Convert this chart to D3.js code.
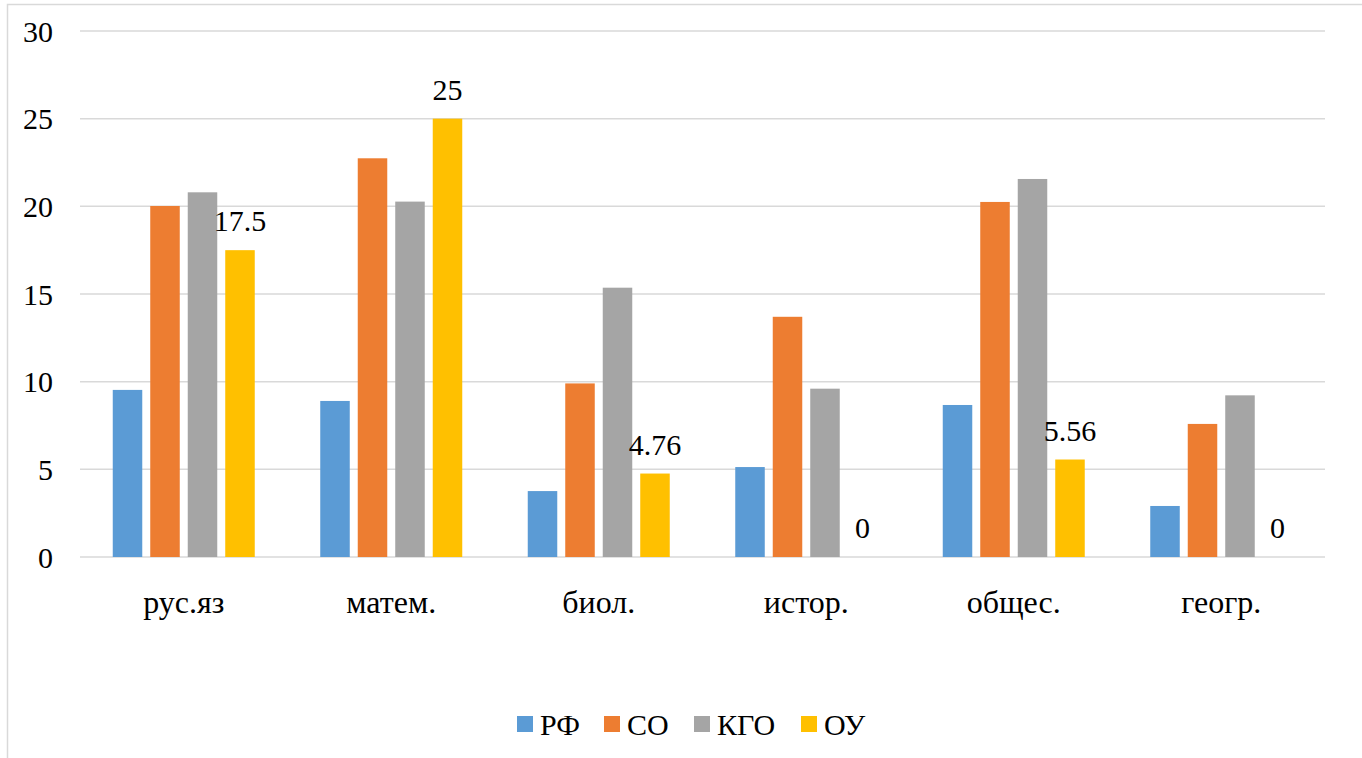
<!DOCTYPE html>
<html>
<head>
<meta charset="utf-8">
<script src="https://cdn.jsdelivr.net/npm/d3@7"></script>
<style>
  body { margin: 0; background: #fff; }
</style>
</head>
<body>
<div id="chart"></div>
<script>
// Data
const categories = ['рус.яз', 'матем.', 'биол.', 'истор.', 'общес.', 'геогр.'];
const seriesNames = ['РФ', 'СО', 'КГО', 'ОУ'];
const seriesColors = ['#5b9bd5', '#ed7d31', '#a5a5a5', '#ffc000'];
const valuesRF  = [9.53, 8.9, 3.76, 5.13, 8.67, 2.91];
const valuesSO  = [20.02, 22.74, 9.9, 13.7, 20.25, 7.59];
const valuesKGO = [20.8, 20.27, 15.36, 9.6, 21.56, 9.22];
const valuesOU  = [17.5, 25, 4.76, 0, 5.56, 0];
const yTicks = [0, 5, 10, 15, 20, 25, 30];

const seriesValues = [valuesRF, valuesSO, valuesKGO, valuesOU];
const labelledSeries = 3; // only ОУ carries data labels

const FONT = 'Liberation Serif';
const FS = '30px';
const width = 1362, height = 758;
const margin = { left: 80, right: 37, top: 31, bottom: 201 };
const groupW = 142;

const svg = d3.select('#chart')
    .append('svg')
    .attr('width', width)
    .attr('height', height);

// chart frame
svg.append('path')
    .attr('d', `M7.5,${height} V4.5 H${width}`)
    .attr('fill', 'none')
    .attr('stroke', '#d9d9d9')
    .attr('stroke-width', 1.5);

const x0 = d3.scaleBand()
    .domain(categories)
    .range([margin.left, width - margin.right]);

const x1 = d3.scaleBand()
    .domain(seriesNames)
    .range([0, groupW])
    .paddingInner(0.213);

const y = d3.scaleLinear()
    .domain([0, 30])
    .range([height - margin.bottom, margin.top]);

// Gridlines
svg.append('g')
    .selectAll('line')
    .data(yTicks)
    .join('line')
    .attr('x1', margin.left)
    .attr('x2', width - margin.right)
    .attr('y1', d => y(d))
    .attr('y2', d => y(d))
    .attr('stroke', '#d9d9d9')
    .attr('stroke-width', 1.5);

// Y tick labels
svg.append('g')
    .selectAll('text')
    .data(yTicks)
    .join('text')
    .attr('x', 53)
    .attr('y', d => y(d))
    .attr('dy', '0.35em')
    .attr('text-anchor', 'end')
    .style('font-family', FONT)
    .style('font-size', FS)
    .text(d => d);

// Bars
const groups = svg.append('g')
    .selectAll('g')
    .data(categories)
    .join('g')
    .attr('transform', c => `translate(${x0(c) + (x0.bandwidth() - groupW) / 2},0)`);

groups.selectAll('rect')
    .data((c, i) => seriesNames.map((s, k) => ({ s, k, v: seriesValues[k][i] })))
    .join('rect')
    .attr('x', d => x1(d.s))
    .attr('width', x1.bandwidth())
    .attr('y', d => y(d.v))
    .attr('height', d => y(0) - y(d.v))
    .attr('fill', d => seriesColors[d.k]);

// Data labels for ОУ
groups.append('text')
    .attr('x', x1(seriesNames[labelledSeries]) + x1.bandwidth() / 2)
    .attr('y', (c, i) => y(seriesValues[labelledSeries][i]) - 19)
    .attr('text-anchor', 'middle')
    .style('font-family', FONT)
    .style('font-size', FS)
    .text((c, i) => seriesValues[labelledSeries][i]);

// Category labels
svg.append('g')
    .selectAll('text')
    .data(categories)
    .join('text')
    .attr('x', c => x0(c) + x0.bandwidth() / 2)
    .attr('y', 613)
    .attr('text-anchor', 'middle')
    .style('font-family', FONT)
    .style('font-size', '32px')
    .text(c => c);

// Legend
const legendX = [517, 604, 694, 801];
const legend = svg.append('g');
seriesNames.forEach((s, k) => {
    const g = legend.append('g').attr('transform', `translate(${legendX[k]},716)`);
    g.append('rect').attr('width', 16).attr('height', 16).attr('fill', seriesColors[k]);
    g.append('text')
        .attr('x', 23)
        .attr('y', 8)
        .attr('dy', '0.35em')
        .style('font-family', FONT)
        .style('font-size', FS)
        .text(s);
});
</script>
</body>
</html>
